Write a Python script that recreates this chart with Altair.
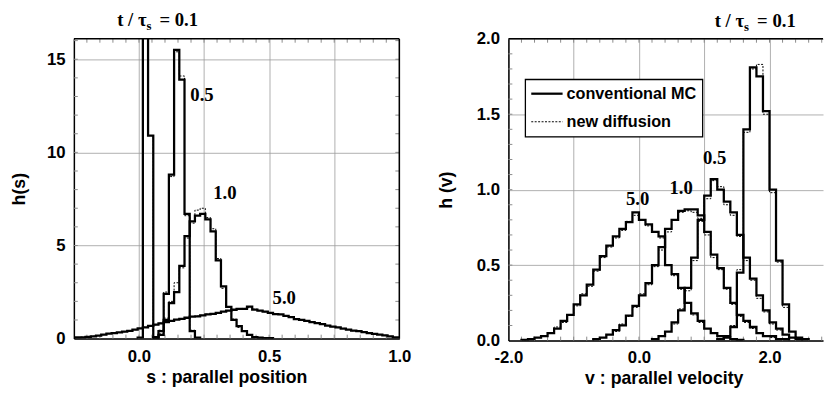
import altair as alt
import pandas as pd

# ---------------- data ----------------
times = ["0.1", "0.5", "1.0", "5.0"]

# left panel: h(s), bin width 0.02
S_BIN = 0.02
s_first_edge = {"0.1": -0.005, "0.5": 0.055, "1.0": 0.055, "5.0": -0.245}
hs_conventional = {
    "0.1": [0.05, 28.0, 10.9, 0.08],
    "0.5": [0.05, 0.4, 2.4, 8.8, 15.5, 13.9, 6.7, 0.4, 0.05],
    "1.0": [0.05, 0.2, 1.0, 1.9, 2.5, 3.9, 5.5, 6.3, 6.6, 6.7, 6.4, 5.76, 4.2, 2.8,
            1.7, 1.0, 0.67, 0.4, 0.2, 0.08, 0.05, 0.03, 0.02],
    "5.0": [0.06, 0.07, 0.09, 0.12, 0.16, 0.22, 0.27, 0.3, 0.33, 0.38,
            0.42, 0.48, 0.55, 0.6, 0.68, 0.75, 0.82, 0.88, 0.95, 1.02,
            1.06, 1.12, 1.18, 1.2, 1.25, 1.3, 1.33, 1.38, 1.45, 1.5,
            1.55, 1.6, 1.6, 1.72, 1.56, 1.5, 1.45, 1.38, 1.32, 1.3,
            1.22, 1.15, 1.05, 1.0, 0.95, 0.88, 0.83, 0.78, 0.7, 0.64,
            0.6, 0.54, 0.48, 0.43, 0.4, 0.35, 0.3, 0.26, 0.22, 0.18,
            0.12, 0.06],
}
hs_new = {
    "0.1": [0.05, 28.0, 10.9, 0.08],
    "0.5": [0.05, 0.45, 2.5, 8.7, 15.4, 14.1, 6.6, 0.45, 0.05],
    "1.0": [0.05, 0.25, 1.1, 2.0, 3.0, 3.8, 5.4, 6.2, 6.9, 7.0, 6.5, 5.9, 4.3, 2.7,
            1.7, 1.05, 0.6, 0.4, 0.22, 0.08, 0.05, 0.03, 0.02],
    "5.0": [0.06, 0.08, 0.09, 0.13, 0.16, 0.21, 0.27, 0.31, 0.33, 0.37,
            0.43, 0.48, 0.54, 0.61, 0.68, 0.74, 0.83, 0.88, 0.94, 1.03,
            1.06, 1.11, 1.19, 1.21, 1.25, 1.31, 1.33, 1.37, 1.46, 1.5,
            1.54, 1.61, 1.62, 1.66, 1.58, 1.5, 1.44, 1.39, 1.32, 1.29,
            1.23, 1.15, 1.06, 1.0, 0.94, 0.89, 0.83, 0.77, 0.71, 0.64,
            0.59, 0.55, 0.48, 0.42, 0.4, 0.36, 0.3, 0.25, 0.22, 0.17,
            0.12, 0.06],
}

# right panel: h(v), bin width 0.1
V_BIN = 0.1
v_first_edge = {"0.1": 1.2, "0.5": 0.2, "1.0": -0.7, "5.0": -1.8}
hv_conventional = {
    "0.1": [0.01, 0.03, 0.09, 0.45, 1.40, 1.81, 1.75, 1.52, 1.0, 0.53, 0.24, 0.06, 0.02, 0.01],
    "0.5": [0.01, 0.03, 0.06, 0.12, 0.2, 0.35, 0.55, 0.8, 0.96, 1.07, 1.0, 0.92, 0.85, 0.7,
            0.55, 0.41, 0.3, 0.2, 0.12, 0.08, 0.04, 0.02, 0.01],
    "1.0": [0.01, 0.02, 0.04, 0.07, 0.1, 0.165, 0.23, 0.3, 0.38, 0.5, 0.62, 0.74, 0.8, 0.86,
            0.87, 0.87, 0.83, 0.72, 0.57, 0.48, 0.35, 0.25, 0.17, 0.13, 0.09, 0.05, 0.03,
            0.03, 0.01, 0.01],
    "5.0": [0.005, 0.01, 0.02, 0.03, 0.05, 0.08, 0.13, 0.17, 0.24, 0.3, 0.37, 0.47, 0.56,
            0.63, 0.69, 0.74, 0.785, 0.85, 0.8, 0.77, 0.72, 0.69, 0.5, 0.44, 0.35, 0.25,
            0.18, 0.13, 0.08, 0.05, 0.03, 0.02, 0.01, 0.005],
}
hv_new = {
    "0.1": [0.01, 0.03, 0.1, 0.47, 1.38, 1.8, 1.83, 1.5, 0.98, 0.52, 0.22, 0.06, 0.02, 0.01],
    "0.5": [0.01, 0.03, 0.06, 0.11, 0.21, 0.33, 0.53, 0.79, 0.94, 1.06, 1.02, 0.9, 0.83, 0.69,
            0.53, 0.4, 0.28, 0.19, 0.11, 0.07, 0.04, 0.02, 0.01],
    "1.0": [0.01, 0.02, 0.04, 0.06, 0.11, 0.16, 0.22, 0.31, 0.37, 0.49, 0.6, 0.72, 0.8, 0.85,
            0.86, 0.85, 0.81, 0.7, 0.55, 0.47, 0.34, 0.24, 0.16, 0.12, 0.08, 0.05, 0.03,
            0.02, 0.01, 0.01],
    "5.0": [0.005, 0.01, 0.02, 0.03, 0.05, 0.09, 0.12, 0.17, 0.23, 0.31, 0.36, 0.46, 0.55,
            0.62, 0.68, 0.73, 0.79, 0.83, 0.8, 0.76, 0.72, 0.68, 0.5, 0.43, 0.34, 0.25,
            0.17, 0.12, 0.08, 0.05, 0.03, 0.02, 0.01, 0.005],
}

methods = ["conventional MC", "new diffusion"]

# minor (inner) tick spacing of each axis
s_minor, hs_minor, v_minor, hv_minor = 0.05, 1.0, 0.2, 0.1


def histogram_rows(first_edge, width, heights, series):
    rows = [{"x": first_edge, "h": 0.0, "k": 0, "series": series}]
    for i, hgt in enumerate(heights):
        rows.append({"x": round(first_edge + i * width, 5), "h": hgt, "k": i + 1, "series": series})
    rows.append({"x": round(first_edge + len(heights) * width, 5), "h": 0.0,
                 "k": len(heights) + 1, "series": series})
    return rows


def build(first_edges, width, table, tag):
    rows = []
    for t in times:
        rows += histogram_rows(first_edges[t], width, table[t], tag + t)
    return pd.DataFrame(rows)


ls_mc = build(s_first_edge, S_BIN, hs_conventional, "mc")
ls_nd = build(s_first_edge, S_BIN, hs_new, "nd")
rv_mc = build(v_first_edge, V_BIN, hv_conventional, "mc")
rv_nd = build(v_first_edge, V_BIN, hv_new, "nd")

# ---------------- styling ----------------
SANS = "Liberation Sans"
SERIF = "Liberation Serif"
GRID = "#9a9a9a"
TICK = "#8a8a8a"

LW, LH = 331, 305
RW, RH = 320, 307

s_dom, hs_dom = [-0.25, 1.0], [0, 16.1]
v_dom, hv_dom = [-2.0, 2.82], [0, 2.0]
s_scale = alt.Scale(domain=s_dom, nice=False, zero=False)
hs_scale = alt.Scale(domain=hs_dom, nice=False)
v_scale = alt.Scale(domain=v_dom, nice=False, zero=False)
hv_scale = alt.Scale(domain=hv_dom, nice=False)

left_x_axis = alt.Axis(
    values=[0, 0.25, 0.5, 0.75, 1.0],
    labelExpr="datum.value == 0 ? '0.0' : datum.value == 0.5 ? '0.5' : datum.value == 1 ? '1.0' : ''",
    title="s : parallel position", titleX=155, grid=True, gridColor=GRID, gridWidth=0.8,
    ticks=False, domainColor="black", domainWidth=1.5, labelFlush=False,
    labelPadding=10, titlePadding=5)
left_y_axis = alt.Axis(
    values=[0, 5, 10, 15], format="d", title="h(s)", grid=True, gridColor=GRID,
    gridWidth=0.8, ticks=False, domainColor="black", domainWidth=1.5,
    labelPadding=9, titlePadding=18)
right_x_axis = alt.Axis(
    values=[-2, -1, 0, 1, 2],
    labelExpr="datum.value == -2 ? '-2.0' : datum.value == 0 ? '0.0' : datum.value == 2 ? '2.0' : ''",
    title="v : parallel velocity", titleX=158, grid=True, gridColor=GRID, gridWidth=0.8,
    ticks=False, domainColor="black", domainWidth=1.5, labelFlush=False,
    labelPadding=9, titlePadding=5)
right_y_axis = alt.Axis(
    values=[0, 0.5, 1.0, 1.5, 2.0], format=".1f", title="h (v)", grid=True,
    gridColor=GRID, gridWidth=0.8, ticks=False, domainColor="black",
    domainWidth=1.5, labelPadding=9, titlePadding=21)


def ticks_between(lo, hi, step):
    n = int(round((hi - lo) / step))
    out = []
    for i in range(n + 1):
        val = round(lo + i * step, 5)
        if lo < val < hi:
            out.append(val)
    return out


class Panel:
    def __init__(self, xsc, ysc, xax, yax, w, h):
        self.xsc, self.ysc, self.xax, self.yax = xsc, ysc, xax, yax
        self.w, self.h = w, h

    def X(self, field="x:Q"):
        return alt.X(field, scale=self.xsc, axis=self.xax)

    def Y(self, field="h:Q"):
        return alt.Y(field, scale=self.ysc, axis=self.yax)

    def hist(self, df_mc, df_nd):
        solid = alt.Chart(df_mc).mark_line(
            interpolate="step-after", clip=True, color="black", strokeWidth=2.3,
            strokeCap="butt").encode(
            x=self.X(), y=self.Y(), detail="series:N", order="k:Q")
        dotted = alt.Chart(df_nd).mark_line(
            interpolate="step-after", clip=True, color="black", strokeWidth=1,
            strokeDash=[2, 1.5]).encode(
            x=self.X(), y=self.Y(), detail="series:N", order="k:Q")
        return [solid, dotted]

    def text(self, x, y, label, font=SERIF, size=19, align="center", baseline="middle", dy=0):
        df = pd.DataFrame({"x": [x], "h": [y], "label": [label]})
        return alt.Chart(df).mark_text(
            font=font, fontWeight="bold", fontSize=size, align=align,
            baseline=baseline, dy=dy, color="black").encode(
            x=self.X(), y=self.Y(), text="label:N")

    def tau(self, x_tau_end, x_eq, y, value):
        return [
            self.text(x_tau_end, y, "t  /  τ", align="right", baseline="alphabetic"),
            self.text(x_tau_end, y, "s", size=13, align="left", baseline="alphabetic", dy=4),
            self.text(x_eq, y, "= " + value, align="left", baseline="alphabetic"),
        ]

    def minor_ticks(self, xs, ys, right_side=True):
        xdf = pd.DataFrame({"x": xs})
        ydf = pd.DataFrame({"h": ys})
        L = 4
        layers = [
            alt.Chart(xdf).mark_rule(color=TICK, strokeWidth=1).encode(
                x=self.X(), y=alt.value(0), y2=alt.value(L)),
            alt.Chart(xdf).mark_rule(color=TICK, strokeWidth=1).encode(
                x=self.X(), y=alt.value(self.h - L), y2=alt.value(self.h)),
            alt.Chart(ydf).mark_rule(color=TICK, strokeWidth=1).encode(
                y=self.Y(), x=alt.value(0), x2=alt.value(L)),
        ]
        if right_side:
            layers.append(alt.Chart(ydf).mark_rule(color=TICK, strokeWidth=1).encode(
                y=self.Y(), x=alt.value(self.w - L), x2=alt.value(self.w)))
        return layers

    def frame_top(self):
        return alt.Chart(pd.DataFrame({"a": [0]})).mark_rule(color="black", strokeWidth=1.5).encode(
            x=alt.value(0), x2=alt.value(self.w), y=alt.value(0))

    def frame_right(self):
        return alt.Chart(pd.DataFrame({"a": [0]})).mark_rule(color="black", strokeWidth=1.5).encode(
            x=alt.value(self.w), y=alt.value(0), y2=alt.value(self.h))


# ---------------- left panel ----------------
L = Panel(s_scale, hs_scale, left_x_axis, left_y_axis, LW, LH)
left_layers = L.minor_ticks(ticks_between(*s_dom, s_minor), ticks_between(*hs_dom, hs_minor))
left_layers += L.hist(ls_mc, ls_nd)
left_layers += [
    L.text(0.242, 13.08, "0.5"),
    L.text(0.33, 7.8, "1.0"),
    L.text(0.558, 2.15, "5.0"),
]
left_layers += L.tau(0.029, 0.0787, 16.77, "0.1")
left_layers += [L.frame_top(), L.frame_right()]
left = alt.layer(*left_layers).properties(width=LW, height=LH)

# ---------------- right panel ----------------
R = Panel(v_scale, hv_scale, right_x_axis, right_y_axis, RW, RH)
right_layers = R.minor_ticks(ticks_between(*v_dom, v_minor), ticks_between(*hv_dom, hv_minor),
                             right_side=False)
right_layers += R.hist(rv_mc, rv_nd)
right_layers += [
    R.text(1.16, 1.206, "0.5"),
    R.text(0.645, 1.008, "1.0"),
    R.text(-0.02, 0.938, "5.0"),
]
right_layers += R.tau(1.61, 1.81, 2.077, "0.1")
right_layers += [R.frame_top()]

# legend box (drawn as marks to get the drop shadow)
box = pd.DataFrame({"x": [-1.74], "x2": [0.976], "h": [1.73], "h2": [1.35]})
shadow = alt.Chart(box).mark_rect(color="#222222", xOffset=3, yOffset=3).encode(
    x=R.X(), x2="x2:Q", y=R.Y(), y2="h2:Q")
panel = alt.Chart(box).mark_rect(fill="white", stroke="black", strokeWidth=1.3).encode(
    x=R.X(), x2="x2:Q", y=R.Y(), y2="h2:Q")
key_lines = pd.DataFrame({"x": [-1.65, -1.65], "x2": [-1.17, -1.17], "h": [1.636, 1.45],
                          "method": methods})
solid_key = alt.Chart(key_lines[key_lines.method == methods[0]]).mark_rule(
    color="black", strokeWidth=2.3).encode(x=R.X(), x2="x2:Q", y=R.Y())
dot_key = alt.Chart(key_lines[key_lines.method == methods[1]]).mark_rule(
    color="black", strokeWidth=1, strokeDash=[2, 1.5]).encode(x=R.X(), x2="x2:Q", y=R.Y())
right_layers += [
    shadow, panel, solid_key, dot_key,
    R.text(-1.11, 1.636, methods[0], font=SANS, size=16.5, align="left"),
    R.text(-1.11, 1.45, methods[1], font=SANS, size=16.5, align="left"),
]
right = alt.layer(*right_layers).properties(width=RW, height=RH)

chart = alt.hconcat(left, right, spacing=27).properties(
    padding={"left": 3, "top": 0, "right": 0, "bottom": 0}).configure_view(
    stroke=None).configure_axis(
    labelFont=SANS, labelFontWeight="bold", labelFontSize=17, labelColor="black",
    titleFont=SANS, titleFontWeight="bold", titleFontSize=18, titleColor="black")

chart.save("out.html", embed_options={"renderer": "svg", "actions": False})
